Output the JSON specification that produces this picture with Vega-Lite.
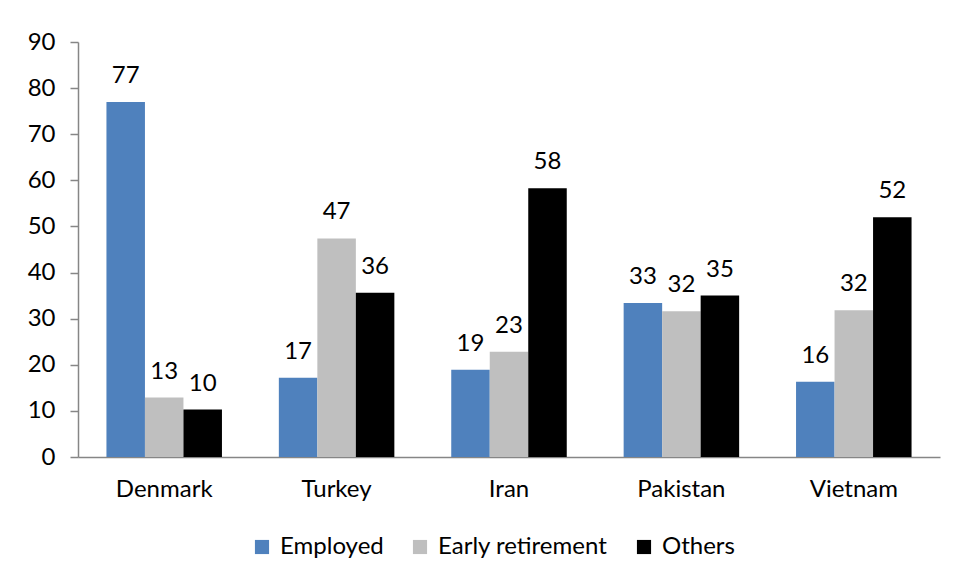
{
  "$schema": "https://vega.github.io/schema/vega-lite/v6.json",
  "autosize": {"type": "none"},
  "width": 862,
  "height": 415,
  "padding": {"left": 78, "top": 42, "right": 19, "bottom": 124},
  "background": "white",
  "config": {
    "view": {"stroke": null},
    "font": "Lato",
    "axis": {"labelFont": "Lato", "labelFontSize": 24, "labelColor": "#000000", "domainColor": "#868686", "domainWidth": 1.5, "tickColor": "#868686", "tickWidth": 1.5, "grid": false, "title": null},
    "legend": {"labelFont": "Lato", "labelFontSize": 24, "labelColor": "#000000", "labelLimit": 0}
  },
  "data": {
    "values": [
      {"country": "Denmark", "type": "Employed", "value": 77.0},
      {"country": "Denmark", "type": "Early retirement", "value": 12.9},
      {"country": "Denmark", "type": "Others", "value": 10.3},
      {"country": "Turkey", "type": "Employed", "value": 17.2},
      {"country": "Turkey", "type": "Early retirement", "value": 47.4},
      {"country": "Turkey", "type": "Others", "value": 35.6},
      {"country": "Iran", "type": "Employed", "value": 18.9},
      {"country": "Iran", "type": "Early retirement", "value": 22.8},
      {"country": "Iran", "type": "Others", "value": 58.3},
      {"country": "Pakistan", "type": "Employed", "value": 33.4},
      {"country": "Pakistan", "type": "Early retirement", "value": 31.6},
      {"country": "Pakistan", "type": "Others", "value": 35.0},
      {"country": "Vietnam", "type": "Employed", "value": 16.3},
      {"country": "Vietnam", "type": "Early retirement", "value": 31.8},
      {"country": "Vietnam", "type": "Others", "value": 52.0}
    ]
  },
  "encoding": {
    "x": {
      "field": "country", "type": "nominal",
      "sort": ["Denmark", "Turkey", "Iran", "Pakistan", "Vietnam"],
      "scale": {"paddingInner": 0.33, "paddingOuter": 0.165},
      "axis": {"labelAngle": 0, "ticks": false, "labelPadding": 20}
    },
    "xOffset": {
      "field": "type", "type": "nominal",
      "sort": ["Employed", "Early retirement", "Others"]
    },
    "y": {
      "field": "value", "type": "quantitative",
      "scale": {"domain": [0, 90], "nice": false},
      "axis": {"values": [0, 10, 20, 30, 40, 50, 60, 70, 80, 90], "tickSize": 8, "labelPadding": 15}
    }
  },
  "layer": [
    {
      "mark": {"type": "bar"},
      "encoding": {
        "color": {
          "field": "type", "type": "nominal",
          "sort": ["Employed", "Early retirement", "Others"],
          "scale": {"domain": ["Employed", "Early retirement", "Others"], "range": ["#4F81BD", "#BFBFBF", "#000000"]},
          "legend": {
            "title": null, "orient": "none", "direction": "horizontal",
            "legendX": 172, "legendY": 493,
            "symbolType": "square", "symbolSize": 200, "symbolStrokeWidth": 0,
            "labelOffset": 6, "columnPadding": 24
          }
        }
      }
    },
    {
      "mark": {"type": "text", "baseline": "alphabetic", "dy": -19, "fontSize": 24, "font": "Lato", "color": "#000000"},
      "encoding": {
        "text": {"field": "value", "type": "quantitative", "format": ".0f"}
      }
    }
  ]
}
